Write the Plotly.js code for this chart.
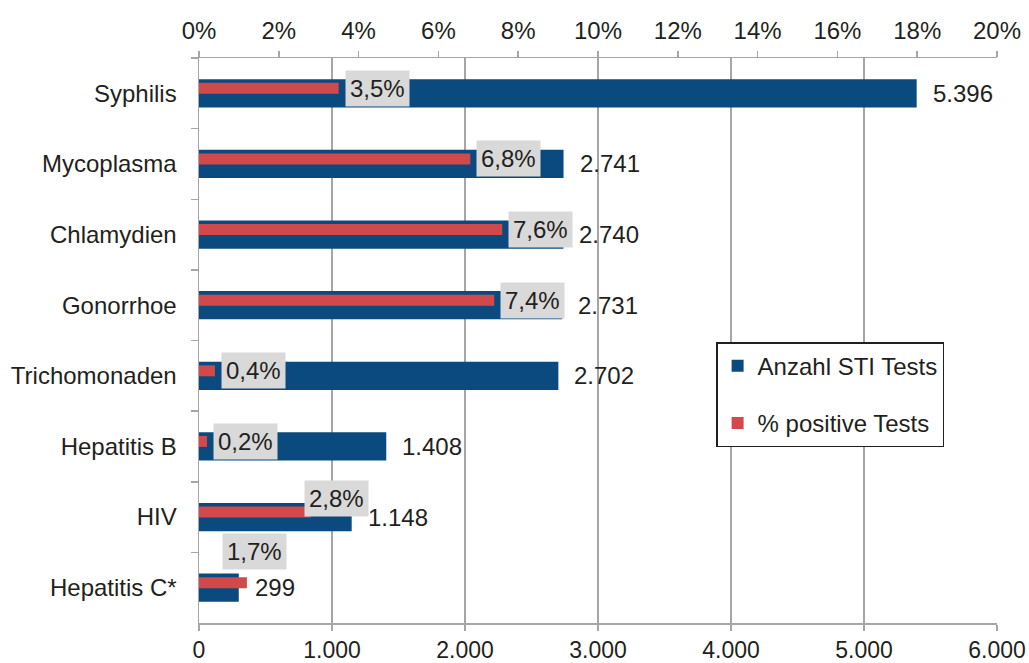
<!DOCTYPE html>
<html>
<head>
<meta charset="utf-8">
<script src="https://cdn.plot.ly/plotly-3.0.1.min.js"></script>
<style>html,body{margin:0;padding:0;background:#fff;}#chart{width:1029px;height:663px;}</style>
</head>
<body>
<div id="chart"></div>
<script>
// Data
var categories = ["Syphilis", "Mycoplasma", "Chlamydien", "Gonorrhoe", "Trichomonaden", "Hepatitis B", "HIV", "Hepatitis C*"];
var testCounts = [5396, 2741, 2740, 2731, 2702, 1408, 1148, 299];
var countLabels = ["5.396", "2.741", "2.740", "2.731", "2.702", "1.408", "1.148", "299"];
var positivePct = [3.5, 6.8, 7.6, 7.4, 0.4, 0.2, 2.8, 1.2];
var pctLabels = ["3,5%", "6,8%", "7,6%", "7,4%", "0,4%", "0,2%", "2,8%", "1,7%"];
var countTicks = [0, 1000, 2000, 3000, 4000, 5000, 6000];
var countTickText = ["0", "1.000", "2.000", "3.000", "4.000", "5.000", "6.000"];
var pctTicks = [0, 2, 4, 6, 8, 10, 12, 14, 16, 18, 20];
var pctTickText = ["0%", "2%", "4%", "6%", "8%", "10%", "12%", "14%", "16%", "18%", "20%"];

// Label placement tweaks (pixels) for labels that sit away from their bar end
var pctLabelShift = {
  "HIV": {dx: -7, dy: 19},
  "Hepatitis C*": {dx: -25, dy: 36}
};

var FONT = "Liberation Sans, Arial, Helvetica, sans-serif";
var TXT = "#231f20";
var BLUE = "#0b4a7e";
var RED = "#d2494b";
var GRID = "#a6a6a6";
var FS = 24;

var traces = [
  {
    type: "bar", orientation: "h", name: "Anzahl STI Tests",
    y: categories, x: testCounts, xaxis: "x", yaxis: "y",
    marker: {color: BLUE}, width: 0.4, offset: -0.2,
    legendgroup: "a", hoverinfo: "skip"
  },
  {
    type: "bar", orientation: "h", name: "% positive Tests",
    y: categories, x: positivePct, xaxis: "x2", yaxis: "y",
    marker: {color: RED}, width: 0.155, offset: -0.148,
    legendgroup: "b", hoverinfo: "skip"
  }
];

var annotations = [];
categories.forEach(function (c, i) {
  annotations.push({
    xref: "x", yref: "y", x: testCounts[i], y: c,
    text: countLabels[i], showarrow: false,
    xanchor: "left", yanchor: "middle", xshift: 14, yshift: 0,
    font: {family: FONT, size: FS, color: TXT}
  });
  var s = pctLabelShift[c] || {dx: 6, dy: 5};
  annotations.push({
    xref: "x2", yref: "y", x: positivePct[i], y: c,
    text: pctLabels[i], showarrow: false,
    xanchor: "left", yanchor: "middle", xshift: s.dx, yshift: s.dy,
    bgcolor: "#d9d9d9", borderpad: 4,
    font: {family: FONT, size: FS, color: TXT}
  });
});

var layout = {
  width: 1029, height: 663,
  margin: {l: 199, r: 32, t: 58, b: 40, pad: 0},
  paper_bgcolor: "#ffffff", plot_bgcolor: "#ffffff",
  font: {family: FONT, size: FS, color: TXT},
  barmode: "overlay",
  showlegend: true,
  legend: {
    x: 0.648, y: 0.497, xanchor: "left", yanchor: "top",
    bgcolor: "#ffffff", bordercolor: "#231f20", borderwidth: 1.5,
    font: {family: FONT, size: FS, color: TXT},
    traceorder: "grouped", tracegroupgap: 23
  },
  xaxis: {
    range: [0, 6000], tickvals: countTicks, ticktext: countTickText,
    side: "bottom", showgrid: true, gridcolor: GRID, gridwidth: 1.5,
    showline: true, linecolor: GRID, linewidth: 1.5,
    ticks: "outside", ticklen: 6, tickcolor: GRID, tickwidth: 1.5,
    zeroline: false, automargin: false, fixedrange: true,
    ticklabelstandoff: 0,
    tickfont: {family: FONT, size: 23, color: TXT}
  },
  xaxis2: {
    range: [0, 20], tickvals: pctTicks, ticktext: pctTickText,
    overlaying: "x", side: "top", anchor: "y", showgrid: false,
    showline: true, linecolor: GRID, linewidth: 1.5,
    ticks: "outside", ticklen: 6, tickcolor: GRID, tickwidth: 1.5,
    zeroline: false, automargin: false, fixedrange: true,
    ticklabelstandoff: 2,
    tickfont: {family: FONT, size: FS, color: TXT}
  },
  yaxis: {
    type: "category", range: [7.5, -0.5], autorange: false,
    showline: true, linecolor: GRID, linewidth: 1.5,
    ticks: "outside", tickson: "boundaries", ticklen: 7, tickcolor: GRID, tickwidth: 1.5,
    showgrid: false, zeroline: false, automargin: false, fixedrange: true,
    ticklabelstandoff: 16,
    tickfont: {family: FONT, size: FS, color: TXT}
  },
  annotations: annotations
};

Plotly.newPlot("chart", traces, layout, {displayModeBar: false, staticPlot: true});
</script>
</body>
</html>
